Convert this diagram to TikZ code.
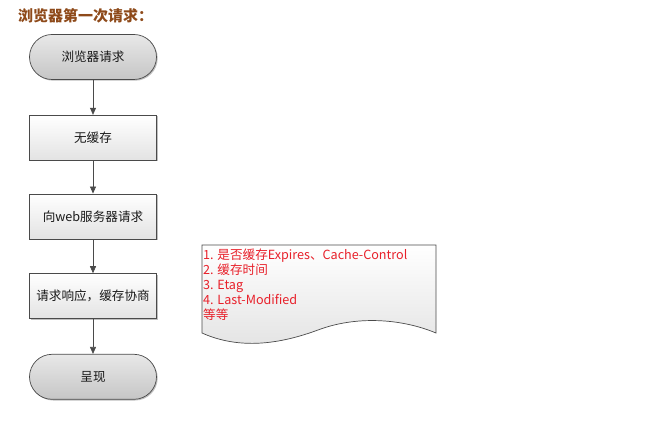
\documentclass[tikz,border=0pt]{standalone}
\usepackage{fontspec}
\setmainfont{Noto Sans CJK SC}
\usepackage{tikz}
\usetikzlibrary{
	arrows.meta,
	positioning,
	shadows
}
\definecolor{titlebrown}{HTML}{8E4A1A}
\definecolor{notered}{HTML}{E8202A}
\definecolor{linegray}{HTML}{4A4A4A}

\begin{document}
\begin{tikzpicture}[
				x=1pt, y=-1pt,
				stepbox/.style={
					rectangle, draw=linegray, line width=0.7pt,
					minimum width=127pt, minimum height=45pt,
					align=center, font=\fontsize{12.6}{14}\selectfont,
					text=black!90,
					top color=white, bottom color=gray!22,
					drop shadow={shadow xshift=1.2pt, shadow yshift=-1.2pt, opacity=0.25, fill=black}
				},
				terminal/.style={
					stepbox, rounded corners=22.5pt,
					top color=gray!18, bottom color=gray!45
				},
				arrow/.style={-{Triangle[width=6pt,length=7pt]}, line width=0.7pt, linegray},
				note/.style={
					align=left, anchor=north west, inner sep=0pt,
					text=notered, font=\fontsize{12.6}{15}\selectfont
				}
				]
				\useasboundingbox (0,0) rectangle (666,427);
				
				% title
				\node[anchor=west, inner sep=0pt, text=titlebrown,
					font=\fontsize{15}{17}\selectfont\bfseries] (title) at (18,16) {浏览器第一次请求：};
				
				% start
				\node[terminal] (start) at (93,57) {浏览器请求};
				
				% no cache
				\node[stepbox, below=35pt of start] (nocache) {无缓存};
				
				% ask server
				\node[stepbox, below=33pt of nocache] (server) {向web服务器请求};
				
				% response
				\node[stepbox, below=34pt of server] (response) {请求响应，缓存协商};
				
				% end
				\node[terminal, below=35pt of response] (show) {呈现};
				
				% arrows between nodes
				\draw[arrow] (start)    -- (nocache);
				\draw[arrow] (nocache)  -- (server);
				\draw[arrow] (server)   -- (response);
				\draw[arrow] (response) -- (show);
				
				% document with wavy bottom
				\draw[linegray, line width=0.7pt, top color=white, bottom color=gray!22]
					(202,245) -- (436,245) -- (436,333)
					.. controls (400,318) and (355,316) .. (318,330)
					.. controls (280,344) and (240,350) .. (202,333) -- cycle;
				\node[note] (notes) at (203,249) {1. 是否缓存Expires、Cache-Control\\2. 缓存时间\\3. Etag\\4. Last-Modified\\等等};
			\end{tikzpicture}
\end{document}
